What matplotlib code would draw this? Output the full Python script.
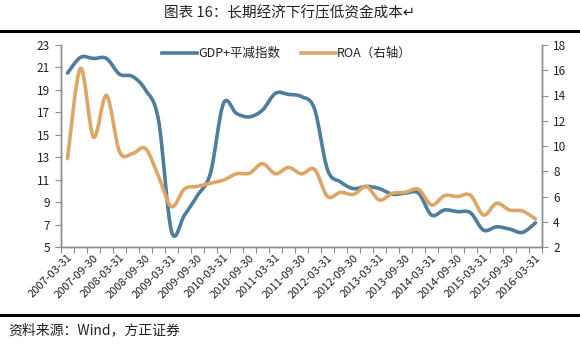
import matplotlib
matplotlib.use("Agg")
import matplotlib.pyplot as plt
from matplotlib.lines import Line2D
from matplotlib.path import Path
from matplotlib.patches import PathPatch

plt.rcParams['font.family'] = ['Noto Sans CJK SC', 'DejaVu Sans']

dates = ["2007-03-31", "2007-06-30", "2007-09-30", "2007-12-31",
         "2008-03-31", "2008-06-30", "2008-09-30", "2008-12-31",
         "2009-03-31", "2009-06-30", "2009-09-30", "2009-12-31",
         "2010-03-31", "2010-06-30", "2010-09-30", "2010-12-31",
         "2011-03-31", "2011-06-30", "2011-09-30", "2011-12-31",
         "2012-03-31", "2012-06-30", "2012-09-30", "2012-12-31",
         "2013-03-31", "2013-06-30", "2013-09-30", "2013-12-31",
         "2014-03-31", "2014-06-30", "2014-09-30", "2014-12-31",
         "2015-03-31", "2015-06-30", "2015-09-30", "2015-12-31",
         "2016-03-31"]

gdp_deflator = [20.5, 21.9, 21.8, 21.8, 20.4, 20.2, 19.0, 16.3,
                6.4, 7.85, 9.6, 11.6, 17.8, 16.9, 16.6, 17.2,
                18.7, 18.6, 18.4, 17.3, 11.9, 10.8, 10.2, 10.4,
                10.2, 9.7, 9.8, 9.8, 7.85, 8.3, 8.15, 8.05,
                6.5, 6.8, 6.6, 6.3, 7.15]

roa = [9.0, 16.15, 10.7, 14.0, 9.55, 9.4, 9.8, 7.6,
       5.2, 6.6, 6.8, 7.05, 7.3, 7.8, 7.85, 8.6,
       7.8, 8.3, 7.8, 8.15, 6.0, 6.33, 6.17, 6.78,
       5.72, 6.25, 6.33, 6.57, 5.33, 6.07, 6.0, 6.1,
       4.53, 5.46, 4.93, 4.85, 4.22]

left_ticks = [5, 7, 9, 11, 13, 15, 17, 19, 21, 23]
right_ticks = [2, 4, 6, 8, 10, 12, 14, 16, 18]

blue = "#4e7d9e"
orange = "#dca667"
axis_grey = "#8c8c8c"


def smooth_path(xs, ys, tension=1/6):
    """Excel-like smoothed line: cubic Bezier through every data point."""
    verts = [(xs[0], ys[0])]
    codes = [Path.MOVETO]
    n = len(xs)
    for i in range(n - 1):
        x0, y0 = xs[max(i - 1, 0)], ys[max(i - 1, 0)]
        x1, y1 = xs[i], ys[i]
        x2, y2 = xs[i + 1], ys[i + 1]
        x3, y3 = xs[min(i + 2, n - 1)], ys[min(i + 2, n - 1)]
        c1 = (x1 + (x2 - x0) * tension, y1 + (y2 - y0) * tension)
        c2 = (x2 - (x3 - x1) * tension, y2 - (y3 - y1) * tension)
        verts += [c1, c2, (x2, y2)]
        codes += [Path.CURVE4] * 3
    return Path(verts, codes)


fig = plt.figure(figsize=(5.8, 3.45), dpi=100)
fig.patch.set_facecolor("white")

ax = fig.add_axes([61/580, 1 - 247/345, (542 - 61)/580, (247 - 45)/345])
ax2 = ax.twinx()

x = list(range(len(dates)))
ax.add_patch(PathPatch(smooth_path(x, gdp_deflator), facecolor="none",
                       edgecolor=blue, lw=2.6, joinstyle="round",
                       capstyle="round", zorder=3))
ax2.add_patch(PathPatch(smooth_path(x, roa), facecolor="none",
                        edgecolor=orange, lw=2.6, joinstyle="round",
                        capstyle="round", zorder=2))

ax.set_xlim(-0.5, len(dates) - 0.5)
ax.set_ylim(5, 23)
ax2.set_ylim(2, 18)
ax.set_yticks(left_ticks)
ax2.set_yticks(right_ticks)
ax.set_yticklabels([str(t) for t in left_ticks], fontsize=8.5, color="#222222")
ax2.set_yticklabels([str(t) for t in right_ticks], fontsize=8.5, color="#222222")

# category boundaries as ticks, labels every other category
ax.set_xticks([i - 0.5 for i in range(len(dates) + 1)])
ax.set_xticklabels([])
ax.set_xticks(x[::2], minor=True)
ax.set_xticklabels(dates[::2], minor=True, rotation=45, ha="right",
                   rotation_mode="anchor", fontsize=8, color="#222222")
ax.tick_params(axis="x", which="minor", length=0, pad=4)
ax.tick_params(axis="x", which="major", length=4, color=axis_grey, direction="out")
ax.tick_params(axis="y", length=4, color=axis_grey, direction="out", pad=4)
ax2.tick_params(axis="y", length=4, color=axis_grey, direction="out", pad=4)

for a in (ax, ax2):
    a.spines["top"].set_visible(False)
    for s in ("left", "right", "bottom"):
        a.spines[s].set_color(axis_grey)
        a.spines[s].set_linewidth(1.0)

# legend
handles = [Line2D([0], [0], color=blue, lw=2.6),
           Line2D([0], [0], color=orange, lw=2.6)]
leg = ax.legend(handles, ["GDP+平减指数", "ROA（右轴）"], loc="upper center",
                bbox_to_anchor=(0.47, 1.045), ncol=2, frameon=False, fontsize=9,
                handlelength=2.8, handletextpad=0.1, columnspacing=1.6)
for t in leg.get_texts():
    t.set_color("#222222")

# title, rules, source
fig.text(0.5, 1 - 13/345, "图表 16：长期经济下行压低资金成本↵", ha="center", va="center",
         fontsize=10.5, color="#222222")
fig.add_artist(Line2D([0, 1], [1 - 31/345, 1 - 31/345], color="black", lw=2.2,
                      transform=fig.transFigure))
fig.add_artist(Line2D([0, 1], [1 - 315/345, 1 - 315/345], color="black", lw=2.2,
                      transform=fig.transFigure))
fig.text(8/580, 1 - 330/345, "资料来源：Wind，方正证券", ha="left", va="center",
         fontsize=10, style="italic", color="#222222")

fig.savefig("out.png", dpi=100, facecolor="white")
